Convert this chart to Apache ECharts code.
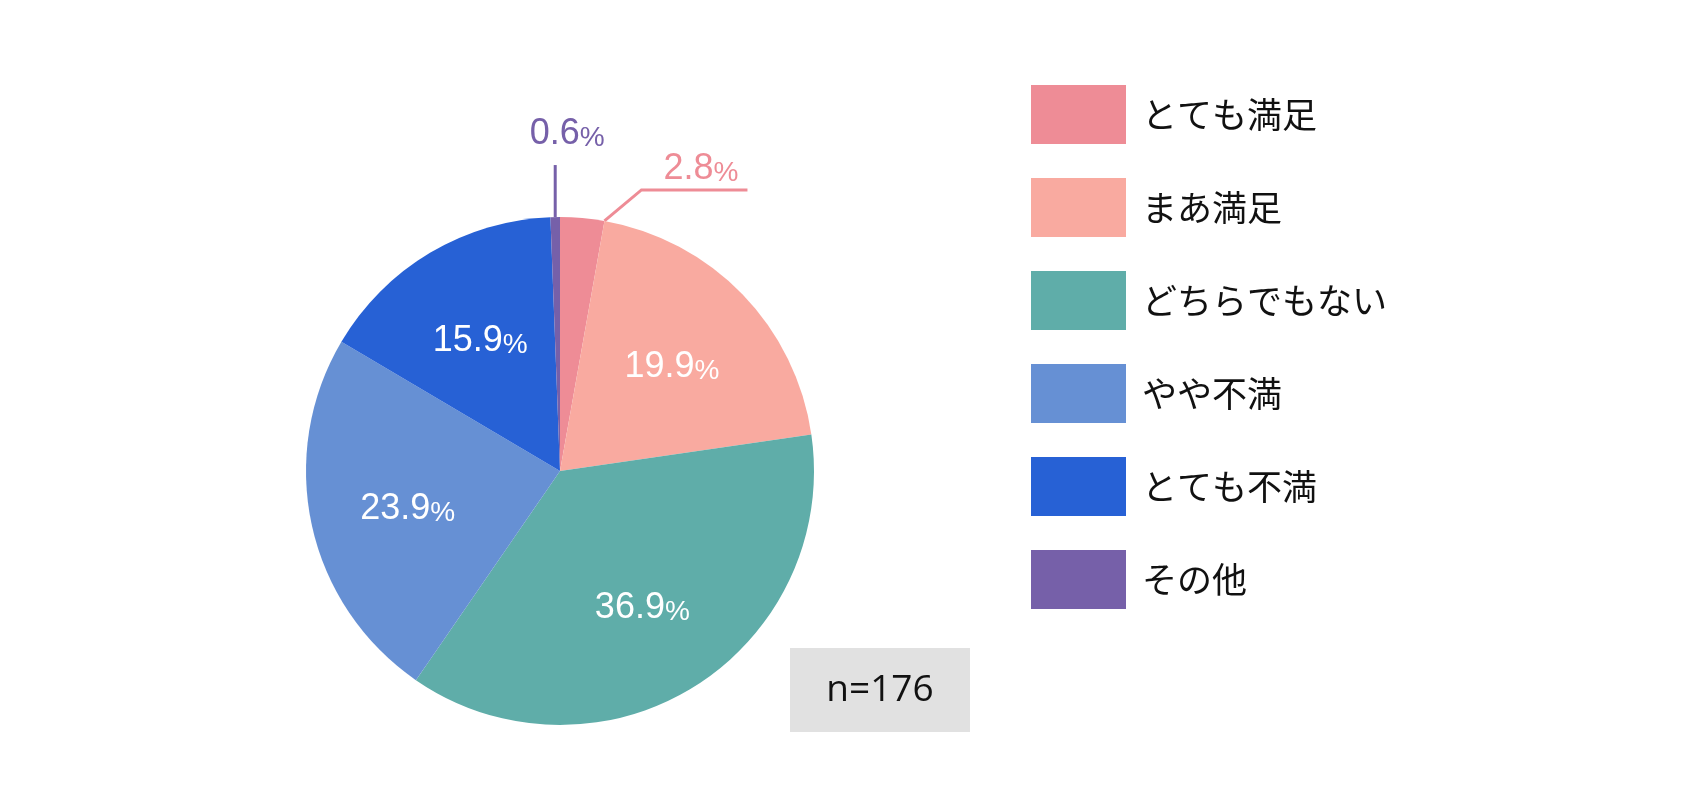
<!DOCTYPE html>
<html>
<head>
<meta charset="utf-8">
<title>満足度</title>
<script src="https://cdn.jsdelivr.net/npm/echarts@6/dist/echarts.min.js"></script>
<style>
    html, body { margin: 0; padding: 0; background: #fff; }
    #main { width: 1685px; height: 795px; }
</style>
</head>
<body>
<div id="main"></div>
<script>
var categories = ['とても満足', 'まあ満足', 'どちらでもない', 'やや不満', 'とても不満', 'その他'];
var shares = [2.8, 19.9, 36.9, 23.9, 15.9, 0.6];
var colors = ['#ee8c96', '#f9aaa0', '#5fada9', '#6690d4', '#2761d5', '#7660a9'];
var sampleSize = 176;

var cx = 560, cy = 471, radius = 254;
var total = shares.reduce(function (a, b) { return a + b; }, 0);

// point on the rim, frac = share of the circle clockwise from 12 o'clock
function rimPoint(frac) {
    var a = frac * Math.PI * 2;
    return [cx + radius * Math.sin(a), cy - radius * Math.cos(a)];
}

function sumBefore(i) {
    var s = 0;
    for (var k = 0; k < i; k++) s += shares[k];
    return s;
}

var chart = echarts.init(document.getElementById('main'));

var data = categories.map(function (name, i) {
    var small = shares[i] < 5;
    return {
        name: name,
        value: shares[i],
        itemStyle: {color: colors[i]},
        label: small ? {position: 'outside', color: colors[i]} : {position: 'inside', color: '#fff'},
        labelLine: {show: small, length: 40, length2: 100, lineStyle: {color: colors[i], width: 3}}
    };
});

var option = {
    animation: false,
    backgroundColor: '#fff',
    legend: {
        orient: 'vertical',
        left: 1031,
        top: 85,
        padding: 0,
        icon: 'rect',
        itemWidth: 95,
        itemHeight: 59,
        itemGap: 34,
        selectedMode: false,
        itemStyle: {borderWidth: 0},
        textStyle: {
            fontSize: 35,
            fontFamily: '"Noto Sans CJK JP", sans-serif',
            color: '#111',
            padding: [0, 0, 0, 11]
        },
        data: categories
    },
    series: [{
        type: 'pie',
        center: [cx, cy],
        radius: radius,
        startAngle: 90,
        clockwise: true,
        avoidLabelOverlap: false,
        itemStyle: {borderWidth: 0},
        emphasis: {disabled: true},
        label: {
            show: true,
            formatter: function (p) {
                return '{v|' + p.value.toFixed(1) + '}{p|%}';
            },
            rich: {
                v: {fontSize: 36, fontFamily: '"Liberation Sans", Arial', lineHeight: 40, verticalAlign: 'bottom'},
                p: {fontSize: 28, fontFamily: '"Liberation Sans", Arial', lineHeight: 40, verticalAlign: 'bottom'}
            }
        },
        labelLayout: function (params) {
            var i = params.dataIndex;
            var r = params.labelRect;
            if (shares[i] >= 5) {
                // push inside labels a bit further out from the centre
                var lx = r.x + r.width / 2, ly = r.y + r.height / 2;
                return {
                    x: cx + (lx - cx) * 1.2,
                    y: cy + (ly - cy) * 1.2,
                    align: 'center',
                    verticalAlign: 'middle'
                };
            }
            if (i === 0) {
                var p0 = rimPoint((sumBefore(i) + shares[i]) / total);
                var p1 = [p0[0] + 37, p0[1] - 31];
                var p2 = [p1[0] + 106, p1[1]];
                return {
                    x: p1[0] + 22,
                    y: p1[1] - 3,
                    align: 'left',
                    verticalAlign: 'bottom',
                    labelLinePoints: [p0, p1, p2]
                };
            }
            var q0 = rimPoint((sumBefore(i) + shares[i] / 2) / total);
            var q1 = [q0[0], q0[1] - 52];
            return {
                x: q0[0] + 12,
                y: q1[1] - 13,
                align: 'center',
                verticalAlign: 'bottom',
                labelLinePoints: [q0, q1, q1]
            };
        },
        data: data
    }],
    graphic: [{
        type: 'group',
        left: 790,
        top: 648,
        children: [
            {type: 'rect', shape: {x: 0, y: 0, width: 180, height: 84}, style: {fill: '#e1e1e1'}},
            {
                type: 'text', x: 90, y: 42,
                style: {
                    text: 'n=' + sampleSize,
                    fontSize: 37,
                    fontFamily: '"Open Sans", sans-serif',
                    fill: '#111',
                    align: 'center',
                    verticalAlign: 'middle'
                }
            }
        ]
    }]
};

chart.setOption(option);
</script>
</body>
</html>
